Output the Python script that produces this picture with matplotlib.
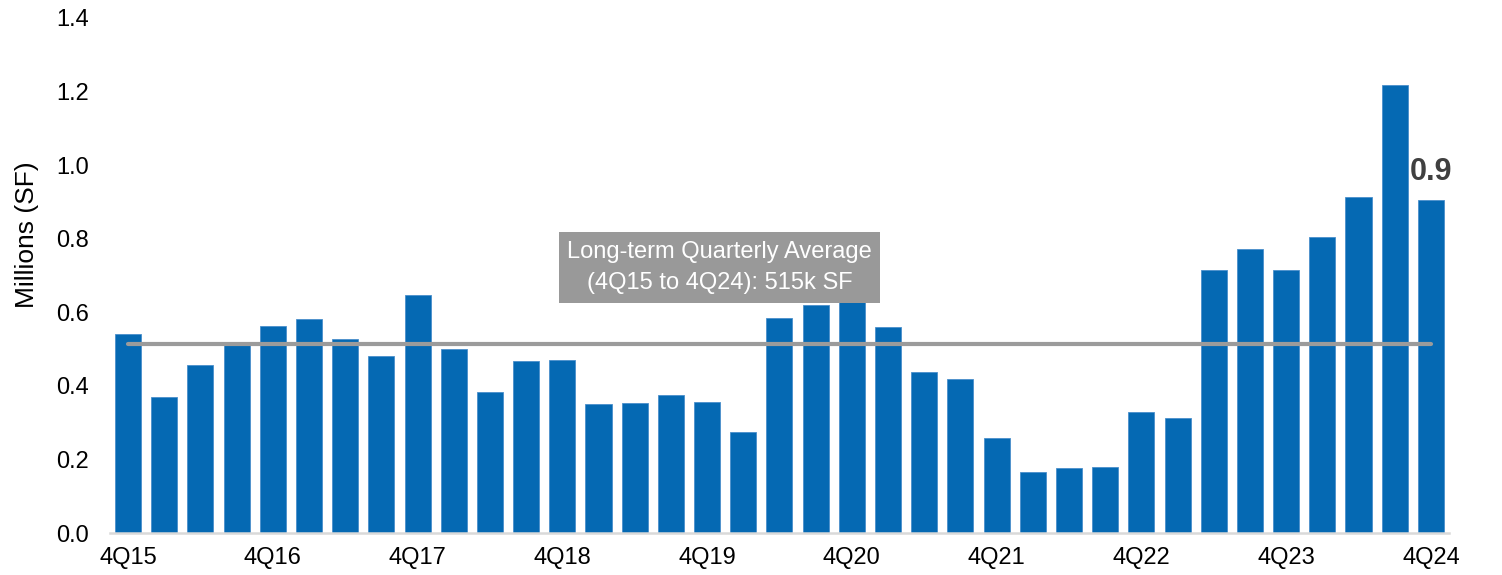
import matplotlib
matplotlib.use("Agg")
import matplotlib.pyplot as plt

# Quarterly net absorption, millions of square feet
quarters = [f"{q}Q{y}" for y in range(15, 25) for q in range(1, 5)][3:]
values = [0.542, 0.369, 0.457, 0.510, 0.562, 0.581, 0.527, 0.481, 0.648,
          0.501, 0.382, 0.467, 0.469, 0.350, 0.353, 0.375, 0.357, 0.274,
          0.584, 0.619, 0.750, 0.561, 0.439, 0.420, 0.259, 0.167, 0.177,
          0.179, 0.330, 0.312, 0.715, 0.772, 0.715, 0.805, 0.913, 1.219,
          0.906]
long_term_avg = 0.515
avg_label = "Long-term Quarterly Average\n(4Q15 to 4Q24): 515k SF"
last_label = "0.9"
y_ticks = [0.0, 0.2, 0.4, 0.6, 0.8, 1.0, 1.2, 1.4]
tick_every = 4

plt.rcParams["font.family"] = ["Liberation Sans", "DejaVu Sans"]

fig = plt.figure(figsize=(15.02, 5.75), dpi=100)
ax = fig.add_axes([0.0732, 0.0730, 0.8915, 0.8957])

x = list(range(len(values)))
ax.bar(x, values, width=0.72, color="#0569B3", edgecolor="#4A8FCC",
       linewidth=0.6, zorder=2)

# long-term average line
ax.plot([x[0], x[-1]], [long_term_avg, long_term_avg], color="#9B9B9B",
        linewidth=3.0, solid_capstyle="round", zorder=3)

ax.text(16.34, 0.722, avg_label, ha="center", va="center", fontsize=17,
        color="white", linespacing=1.55, zorder=4,
        bbox=dict(boxstyle="square,pad=0.36", facecolor="#999999",
                  edgecolor="none"))

ax.annotate(last_label, xy=(x[-1], values[-1]), xytext=(0, 20),
            textcoords="offset points", ha="center", va="center",
            fontsize=22, fontweight="bold", color="#404040", zorder=5)

ax.set_xlim(-0.5, len(values) - 0.5)
ax.set_ylim(0, 1.4)
ax.set_yticks(y_ticks)
ax.set_yticklabels([f"{v:.1f}" for v in y_ticks])
ax.set_xticks(x[::tick_every])
ax.set_xticklabels(quarters[::tick_every])
ax.tick_params(axis="both", length=0, labelsize=17, colors="black")
ax.tick_params(axis="y", pad=15)
ax.tick_params(axis="x", pad=10)

for side in ("top", "right", "left"):
    ax.spines[side].set_visible(False)
ax.spines["bottom"].set_color("#D9D9D9")
ax.spines["bottom"].set_linewidth(1.8)
ax.spines["bottom"].set_zorder(3)

ax.set_ylabel("Millions (SF)", fontsize=19)
ax.yaxis.set_label_coords(-0.0527, 0.579)

fig.savefig("out.png", dpi=100, facecolor="white")
